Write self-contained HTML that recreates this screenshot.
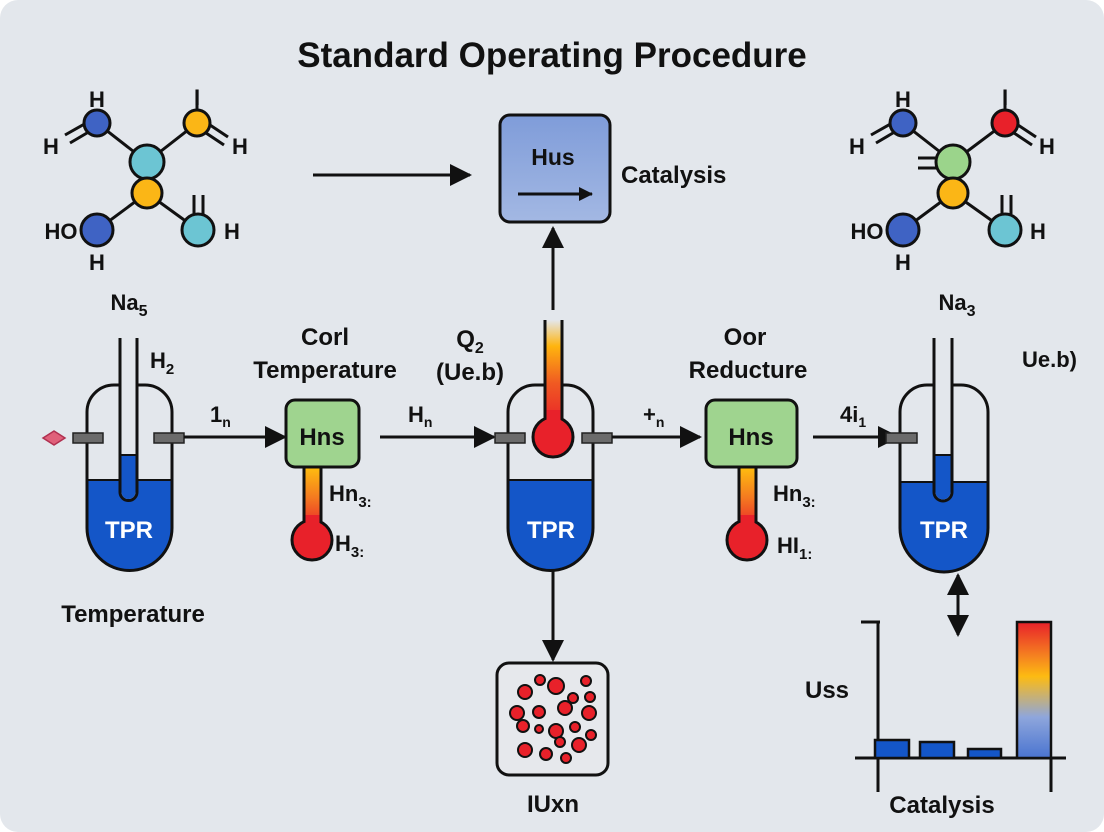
<!DOCTYPE html>
<html><head><meta charset="utf-8"><style>
html,body{margin:0;padding:0;background:#fff}
svg{display:block}
text{font-family:"Liberation Sans",sans-serif;font-weight:bold;fill:#111}
</style></head><body>
<svg width="1104" height="832" viewBox="0 0 1104 832" xmlns="http://www.w3.org/2000/svg">
<defs>
<marker id="ah" markerWidth="14" markerHeight="14" refX="13" refY="7" orient="auto" markerUnits="userSpaceOnUse" viewBox="0 0 14 14"><path d="M0,0 L14,7 L0,14 z" fill="#111"/></marker>
<marker id="ah2" markerWidth="22" markerHeight="22" refX="20" refY="11" orient="auto-start-reverse" markerUnits="userSpaceOnUse" viewBox="0 0 22 22"><path d="M0,0 L22,11 L0,22 z" fill="#111"/></marker>
<linearGradient id="therm" x1="0" y1="0" x2="0" y2="1"><stop offset="0" stop-color="#ffc20e"/><stop offset="0.5" stop-color="#f47a20"/><stop offset="1" stop-color="#e8212a"/></linearGradient>
<linearGradient id="therm2" x1="0" y1="0" x2="0" y2="1"><stop offset="0" stop-color="#e3e7ec"/><stop offset="0.25" stop-color="#ffb40e"/><stop offset="0.6" stop-color="#f05a22"/><stop offset="1" stop-color="#e8212a"/></linearGradient>
<linearGradient id="bar" x1="0" y1="0" x2="0" y2="1"><stop offset="0" stop-color="#e8212a"/><stop offset="0.25" stop-color="#f58220"/><stop offset="0.4" stop-color="#fdbb12"/><stop offset="0.7" stop-color="#8ea6dc"/><stop offset="1" stop-color="#4a74d0"/></linearGradient>
<linearGradient id="box" x1="0" y1="0" x2="0" y2="1"><stop offset="0" stop-color="#7f9cd9"/><stop offset="1" stop-color="#a3b8e3"/></linearGradient>
</defs>
<rect x="0" y="0" width="1104" height="832" rx="18" fill="#e3e7ec"/>
<text x="552" y="67" font-size="35" text-anchor="middle">Standard Operating Procedure</text>

<!-- left molecule -->
<g stroke="#111" stroke-width="3">
<line x1="97" y1="123" x2="147" y2="162"/><line x1="197" y1="123" x2="147" y2="162"/>
<line x1="147" y1="193" x2="97" y2="230"/><line x1="147" y1="193" x2="198" y2="230"/>
<line x1="65" y1="135" x2="88" y2="122"/><line x1="70" y1="143" x2="92" y2="130"/>
<line x1="197" y1="104" x2="197" y2="110"/>
<line x1="207" y1="123" x2="228" y2="137"/><line x1="203" y1="131" x2="224" y2="145"/>
<line x1="194" y1="195" x2="194" y2="214"/><line x1="203" y1="195" x2="203" y2="214"/>
<circle cx="97" cy="123" r="13" fill="#3f63c4"/><circle cx="197" cy="123" r="13" fill="#fbb616"/>
<circle cx="147" cy="162" r="17" fill="#6cc5d3"/><circle cx="147" cy="193" r="15" fill="#fbb616"/>
<circle cx="97" cy="230" r="16" fill="#3f63c4"/><circle cx="198" cy="230" r="16" fill="#6cc5d3"/>
</g>
<text x="97" y="107" font-size="22" text-anchor="middle">H</text>
<text x="51" y="154" font-size="22" text-anchor="middle">H</text>
<text x="197" y="105" font-size="22" text-anchor="middle">I</text>
<text x="240" y="154" font-size="22" text-anchor="middle">H</text>
<text x="61" y="239" font-size="22" text-anchor="middle">HO</text>
<text x="97" y="270" font-size="22" text-anchor="middle">H</text>
<text x="232" y="239" font-size="22" text-anchor="middle">H</text>

<!-- right molecule -->
<g transform="translate(806,0)">
<g stroke="#111" stroke-width="3">
<line x1="97" y1="123" x2="147" y2="162"/><line x1="199" y1="123" x2="147" y2="162"/>
<line x1="147" y1="193" x2="97" y2="230"/><line x1="147" y1="193" x2="199" y2="230"/>
<line x1="65" y1="135" x2="88" y2="122"/><line x1="70" y1="143" x2="92" y2="130"/>
<line x1="199" y1="104" x2="199" y2="110"/>
<line x1="209" y1="123" x2="230" y2="137"/><line x1="205" y1="131" x2="226" y2="145"/>
<line x1="196" y1="195" x2="196" y2="214"/><line x1="205" y1="195" x2="205" y2="214"/>
<line x1="112" y1="158" x2="130" y2="158"/><line x1="112" y1="168" x2="130" y2="168"/>
<circle cx="97" cy="123" r="13" fill="#3f63c4"/><circle cx="199" cy="123" r="13" fill="#e8212a"/>
<circle cx="147" cy="162" r="17" fill="#9bd48b"/><circle cx="147" cy="193" r="15" fill="#fbb616"/>
<circle cx="97" cy="230" r="16" fill="#3f63c4"/><circle cx="199" cy="230" r="16" fill="#6cc5d3"/>
</g>
<text x="97" y="107" font-size="22" text-anchor="middle">H</text>
<text x="51" y="154" font-size="22" text-anchor="middle">H</text>
<text x="199" y="105" font-size="22" text-anchor="middle">I</text>
<text x="241" y="154" font-size="22" text-anchor="middle">H</text>
<text x="61" y="239" font-size="22" text-anchor="middle">HO</text>
<text x="97" y="270" font-size="22" text-anchor="middle">H</text>
<text x="232" y="239" font-size="22" text-anchor="middle">H</text>
</g>

<!-- top arrow & Hus box -->
<line x1="313" y1="175" x2="470" y2="175" stroke="#111" stroke-width="3" marker-end="url(#ah2)"/>
<rect x="500" y="115" width="110" height="107" rx="10" fill="url(#box)" stroke="#111" stroke-width="3"/>
<text x="553" y="165" font-size="23" text-anchor="middle">Hus</text>
<line x1="518" y1="194" x2="592" y2="194" stroke="#111" stroke-width="3" marker-end="url(#ah)"/>
<text x="621" y="183" font-size="24">Catalysis</text>
<line x1="553" y1="310" x2="553" y2="228" stroke="#111" stroke-width="3" marker-end="url(#ah2)"/>

<!-- vessel 1 -->
<text x="129" y="310" font-size="22" text-anchor="middle">Na<tspan font-size="16" dy="6">5</tspan></text>
<path d="M87,480 L172,480 L172,528 A42.5,42.5 0 0 1 87,528 Z" fill="#1456c8"/>
<path d="M87,528 L87,412 A27,27 0 0 1 114,385 L145,385 A27,27 0 0 1 172,412 L172,528 A42.5,42.5 0 0 1 87,528 Z" fill="none" stroke="#111" stroke-width="3"/>
<line x1="87" y1="480" x2="172" y2="480" stroke="#111" stroke-width="2"/>
<path d="M120,338 L120,492 A8.5,8.5 0 0 0 137,492 L137,338" fill="#e3e7ec" stroke="#111" stroke-width="3"/>
<path d="M121.5,455 L135.5,455 L135.5,492 A7,7 0 0 1 121.5,492 Z" fill="#1456c8"/>
<line x1="121" y1="455" x2="136" y2="455" stroke="#111" stroke-width="2"/>
<rect x="73" y="433" width="30" height="10" fill="#6b6b6b" stroke="#222" stroke-width="1.5"/>
<rect x="154" y="433" width="30" height="10" fill="#6b6b6b" stroke="#222" stroke-width="1.5"/>
<path d="M43,438 L54,431 L65,438 L54,445 Z" fill="#e0607a" stroke="#b03050" stroke-width="1.5"/>
<text x="129" y="538" font-size="24" text-anchor="middle" style="fill:#fff">TPR</text>
<text x="150" y="368" font-size="22">H<tspan font-size="15" dy="6">2</tspan></text>
<text x="133" y="622" font-size="24" text-anchor="middle">Temperature</text>

<!-- arrow 1 -->
<line x1="184" y1="437" x2="285" y2="437" stroke="#111" stroke-width="3" marker-end="url(#ah2)"/>
<text x="210" y="422" font-size="22">1<tspan font-size="14" dy="5">n</tspan></text>

<!-- Hns 1 -->
<text x="325" y="345" font-size="24" text-anchor="middle">Corl</text>
<text x="325" y="378" font-size="24" text-anchor="middle">Temperature</text>
<rect x="304" y="465" width="17" height="65" fill="url(#therm)" stroke="#111" stroke-width="3"/>
<circle cx="312" cy="540" r="20" fill="#e8212a" stroke="#111" stroke-width="3"/>
<rect x="305.5" y="515" width="14" height="20" fill="#e8212a"/>
<rect x="286" y="400" width="73" height="67" rx="9" fill="#9fd48f" stroke="#111" stroke-width="3"/>
<text x="322" y="445" font-size="24" text-anchor="middle">Hns</text>
<text x="329" y="501" font-size="22">Hn<tspan font-size="15" dy="6">3:</tspan></text>
<text x="335" y="551" font-size="22">H<tspan font-size="15" dy="6">3:</tspan></text>

<!-- arrow 2 -->
<line x1="380" y1="437" x2="494" y2="437" stroke="#111" stroke-width="3" marker-end="url(#ah2)"/>
<text x="408" y="422" font-size="22">H<tspan font-size="14" dy="5">n</tspan></text>
<text x="470" y="347" font-size="24" text-anchor="middle">Q<tspan font-size="16" dy="6">2</tspan></text>
<text x="470" y="380" font-size="24" text-anchor="middle">(Ue.b)</text>

<!-- vessel 2 -->
<path d="M508,480 L593,480 L593,528 A42.5,42.5 0 0 1 508,528 Z" fill="#1456c8"/>
<path d="M508,528 L508,412 A27,27 0 0 1 535,385 L566,385 A27,27 0 0 1 593,412 L593,528 A42.5,42.5 0 0 1 508,528 Z" fill="none" stroke="#111" stroke-width="3"/>
<line x1="508" y1="480" x2="593" y2="480" stroke="#111" stroke-width="2"/>
<rect x="545" y="320" width="17" height="105" fill="url(#therm2)"/>
<line x1="545" y1="320" x2="545" y2="420" stroke="#111" stroke-width="3"/>
<line x1="562" y1="320" x2="562" y2="420" stroke="#111" stroke-width="3"/>
<circle cx="553" cy="437" r="20" fill="#e8212a" stroke="#111" stroke-width="3"/>
<rect x="546.5" y="410" width="14" height="20" fill="#e8212a"/>
<rect x="495" y="433" width="30" height="10" fill="#6b6b6b" stroke="#222" stroke-width="1.5"/>
<rect x="582" y="433" width="30" height="10" fill="#6b6b6b" stroke="#222" stroke-width="1.5"/>
<text x="551" y="538" font-size="24" text-anchor="middle" style="fill:#fff">TPR</text>
<line x1="553" y1="570" x2="553" y2="660" stroke="#111" stroke-width="3" marker-end="url(#ah2)"/>
<rect x="497" y="663" width="111" height="112" rx="12" fill="#e6e8ec" stroke="#111" stroke-width="3"/>
<g fill="#e8212a" stroke="#111" stroke-width="2">
<circle cx="525" cy="692" r="7"/><circle cx="540" cy="680" r="5"/><circle cx="556" cy="686" r="8"/><circle cx="586" cy="681" r="5"/>
<circle cx="590" cy="697" r="5"/><circle cx="573" cy="698" r="5"/><circle cx="565" cy="708" r="7"/><circle cx="517" cy="713" r="7"/>
<circle cx="539" cy="712" r="6"/><circle cx="589" cy="713" r="7"/><circle cx="523" cy="726" r="6"/><circle cx="539" cy="729" r="4"/>
<circle cx="556" cy="731" r="7"/><circle cx="575" cy="727" r="5"/><circle cx="591" cy="735" r="5"/><circle cx="560" cy="742" r="5"/>
<circle cx="579" cy="745" r="7"/><circle cx="525" cy="750" r="7"/><circle cx="546" cy="754" r="6"/><circle cx="566" cy="758" r="5"/>
</g>
<text x="553" y="812" font-size="24" text-anchor="middle">IUxn</text>

<!-- arrow 3 -->
<line x1="612" y1="437" x2="700" y2="437" stroke="#111" stroke-width="3" marker-end="url(#ah2)"/>
<text x="643" y="422" font-size="22">+<tspan font-size="14" dy="5">n</tspan></text>

<!-- Hns 2 -->
<text x="745" y="345" font-size="24" text-anchor="middle">Oor</text>
<text x="748" y="378" font-size="24" text-anchor="middle">Reducture</text>
<rect x="739" y="465" width="17" height="65" fill="url(#therm)" stroke="#111" stroke-width="3"/>
<circle cx="747" cy="540" r="20" fill="#e8212a" stroke="#111" stroke-width="3"/>
<rect x="740.5" y="515" width="14" height="20" fill="#e8212a"/>
<rect x="706" y="400" width="91" height="67" rx="9" fill="#9fd48f" stroke="#111" stroke-width="3"/>
<text x="751" y="445" font-size="24" text-anchor="middle">Hns</text>
<text x="773" y="501" font-size="22">Hn<tspan font-size="15" dy="6">3:</tspan></text>
<text x="777" y="553" font-size="22">HI<tspan font-size="15" dy="6">1:</tspan></text>

<!-- arrow 4 -->
<line x1="813" y1="437" x2="898" y2="437" stroke="#111" stroke-width="3" marker-end="url(#ah2)"/>
<text x="840" y="422" font-size="22">4i<tspan font-size="14" dy="5">1</tspan></text>

<!-- vessel 3 -->
<text x="957" y="310" font-size="22" text-anchor="middle">Na<tspan font-size="16" dy="6">3</tspan></text>
<path d="M900,482 L988,482 L988,528 A44,44 0 0 1 900,528 Z" fill="#1456c8"/>
<path d="M900,528 L900,412 A27,27 0 0 1 927,385 L961,385 A27,27 0 0 1 988,412 L988,528 A44,44 0 0 1 900,528 Z" fill="none" stroke="#111" stroke-width="3"/>
<line x1="900" y1="482" x2="988" y2="482" stroke="#111" stroke-width="2"/>
<path d="M934,338 L934,492 A9,9 0 0 0 952,492 L952,338" fill="#e3e7ec" stroke="#111" stroke-width="3"/>
<path d="M935.5,455 L950.5,455 L950.5,492 A7.5,7.5 0 0 1 935.5,492 Z" fill="#1456c8"/>
<line x1="935" y1="455" x2="951" y2="455" stroke="#111" stroke-width="2"/>
<rect x="886" y="433" width="31" height="10" fill="#6b6b6b" stroke="#222" stroke-width="1.5"/>
<text x="944" y="538" font-size="24" text-anchor="middle" style="fill:#fff">TPR</text>
<text x="1022" y="367" font-size="22">Ue.b)</text>
<line x1="958" y1="575" x2="958" y2="635" stroke="#111" stroke-width="3" marker-start="url(#ah2)" marker-end="url(#ah2)"/>

<!-- bar chart -->
<line x1="878" y1="622" x2="878" y2="792" stroke="#111" stroke-width="3"/>
<line x1="861" y1="622" x2="880" y2="622" stroke="#111" stroke-width="3"/>
<line x1="855" y1="758" x2="1066" y2="758" stroke="#111" stroke-width="3"/>
<line x1="1051" y1="758" x2="1051" y2="792" stroke="#111" stroke-width="3"/>
<rect x="875" y="740" width="34" height="18" fill="#1456c8" stroke="#111" stroke-width="2.5"/>
<rect x="920" y="742" width="34" height="16" fill="#1456c8" stroke="#111" stroke-width="2.5"/>
<rect x="968" y="749" width="33" height="9" fill="#1456c8" stroke="#111" stroke-width="2.5"/>
<rect x="1017" y="622" width="34" height="136" fill="url(#bar)" stroke="#111" stroke-width="2.5"/>
<text x="827" y="698" font-size="24" text-anchor="middle">Uss</text>
<text x="942" y="813" font-size="24" text-anchor="middle">Catalysis</text>
</svg>
</body></html>
